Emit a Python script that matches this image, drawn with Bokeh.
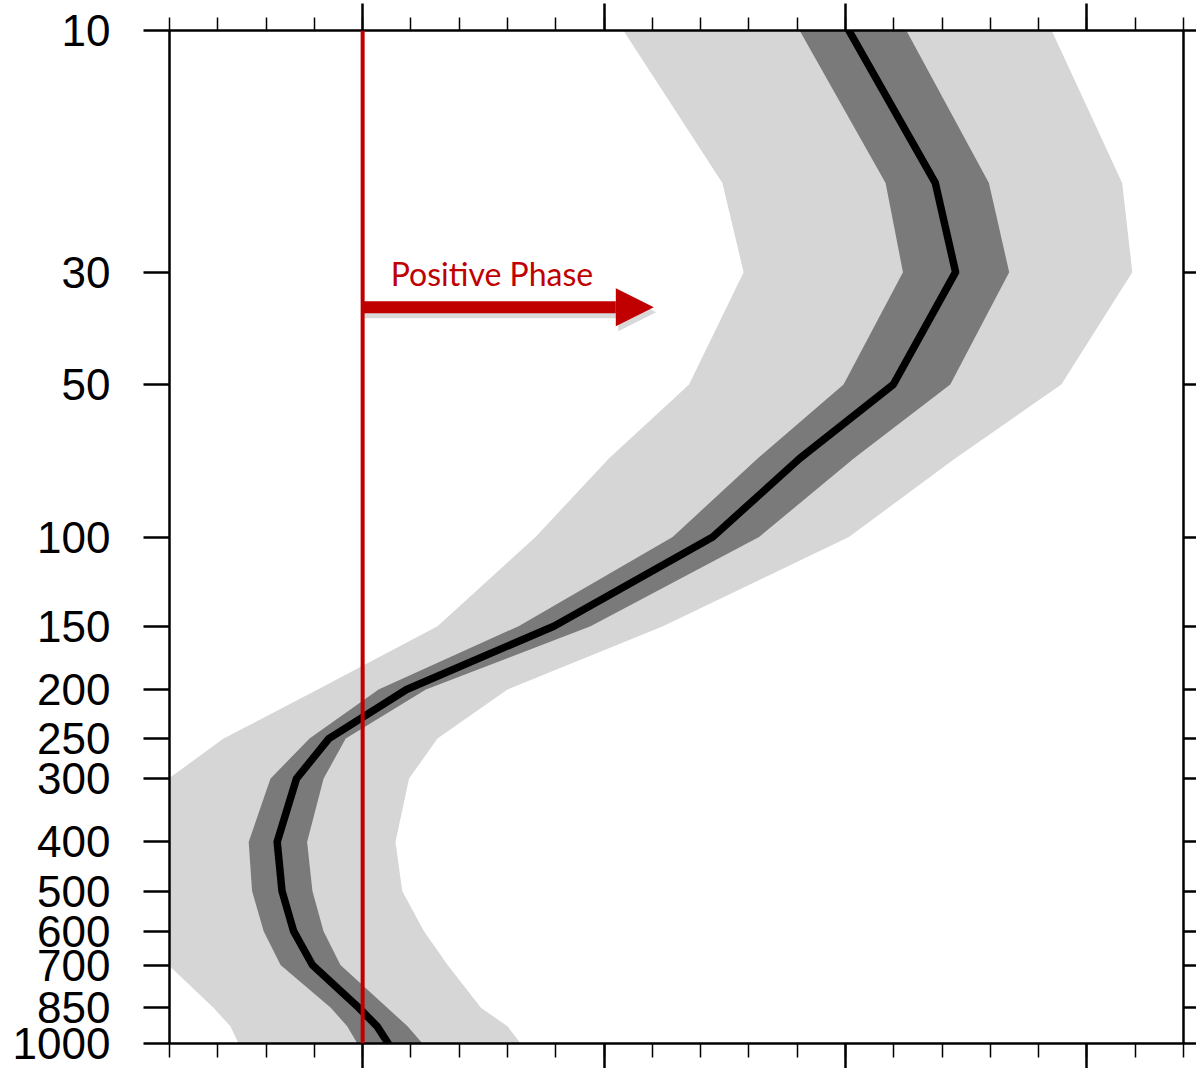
from bokeh.plotting import figure
from bokeh.models import (Range1d, FixedTicker, SingleIntervalTicker, LinearAxis, LogAxis,
                          Span, Arrow, NormalHead, Label, NumeralTickFormatter, CustomJSTickFormatter)
from bokeh.embed import file_html
from bokeh.resources import INLINE

# pressure levels (hPa)
levels = [10, 20, 30, 50, 70, 100, 150, 200, 250, 300, 400, 500, 600, 700, 850, 925, 1000]
# ensemble mean profile
mean = [1.007, 1.186, 1.228, 1.099, 0.905, 0.725, 0.396, 0.091, -0.070, -0.137,
        -0.177, -0.167, -0.143, -0.104, -0.008, 0.030, 0.053]
# inner (dark) band
inner_lo = [0.905, 1.083, 1.119, 0.996, 0.818, 0.642, 0.323, 0.033, -0.110, -0.191,
            -0.236, -0.229, -0.205, -0.170, -0.066, -0.032, -0.011]
inner_hi = [1.126, 1.297, 1.339, 1.217, 1.017, 0.821, 0.472, 0.131, -0.035, -0.081,
            -0.115, -0.104, -0.081, -0.046, 0.051, 0.093, 0.124]
# outer (light) band
outer_lo = [0.540, 0.745, 0.789, 0.676, 0.510, 0.358, 0.155, -0.093, -0.288, -0.402,
            -0.439, -0.439, -0.423, -0.402, -0.309, -0.274, -0.257]
outer_hi = [1.427, 1.573, 1.594, 1.447, 1.227, 1.007, 0.622, 0.300, 0.155, 0.096,
            0.068, 0.082, 0.127, 0.176, 0.245, 0.300, 0.327]

y_ticks = [10, 30, 50, 100, 150, 200, 250, 300, 400, 500, 600, 700, 850, 1000]
annot_text = "Positive Phase"

RED = "#C00000"

p = figure(width=1196, height=1068, x_range=Range1d(-0.4, 1.7), y_range=Range1d(1000, 10),
           y_axis_type="log", output_backend="svg", toolbar_location=None,
           min_border_left=169, min_border_right=13, min_border_top=30, min_border_bottom=25)
p.outline_line_color = None
p.grid.visible = False
p.background_fill_color = "white"
p.border_fill_color = "white"

p.harea(x1=outer_lo, x2=outer_hi, y=levels, fill_color="#D6D6D6")
p.harea(x1=inner_lo, x2=inner_hi, y=levels, fill_color="#7A7A7A")
p.line(mean, levels, line_color="black", line_width=7.5, line_join="round", line_cap="round")

blank = CustomJSTickFormatter(code="return ''")

# left axis
ya = p.yaxis[0]
ya.ticker = FixedTicker(ticks=y_ticks, minor_ticks=[])
ya.formatter = NumeralTickFormatter(format="0")
ya.major_tick_out = 26
ya.major_tick_in = 0
ya.major_tick_line_width = 2.5
ya.axis_line_width = 2.5
ya.major_label_standoff = 33
ya.major_label_text_font = "Liberation Sans"
ya.major_label_text_font_size = "44px"
ya.major_label_text_color = "black"

def style_x(ax, major_out, minor_out):
    ax.ticker = SingleIntervalTicker(interval=0.5, num_minor_ticks=5)
    ax.formatter = blank
    ax.major_tick_out = major_out
    ax.major_tick_in = 0
    ax.minor_tick_out = minor_out
    ax.minor_tick_in = 0
    ax.major_tick_line_width = 2.5
    ax.minor_tick_line_width = 1.5
    ax.axis_line_width = 2.5
    ax.major_label_text_font_size = "1px"
    ax.major_label_standoff = 0

style_x(p.xaxis[0], 25, 14)
top = LinearAxis()
style_x(top, 27, 13)
p.add_layout(top, "above")

right = LogAxis(ticker=FixedTicker(ticks=y_ticks, minor_ticks=[]), formatter=blank)
right.major_tick_out = 13
right.major_tick_in = 0
right.major_tick_line_width = 2.5
right.axis_line_width = 2.5
right.major_label_text_font_size = "1px"
right.major_label_standoff = 0
p.add_layout(right, "right")

# red zero line
p.add_layout(Span(location=0, dimension="height", line_color=RED, line_width=4))

# arrow with faint shadow
arrow_y = 35.2
arrow_x_end = 0.603
p.add_layout(Arrow(x_start=0.004, y_start=36.0, x_end=arrow_x_end + 0.005, y_end=36.0,
                   line_color="#000000", line_alpha=0.15, line_width=12,
                   end=NormalHead(size=38, fill_color="#000000", fill_alpha=0.15, line_color=None)))
p.add_layout(Arrow(x_start=0.0, y_start=arrow_y, x_end=arrow_x_end, y_end=arrow_y,
                   line_color=RED, line_width=12,
                   end=NormalHead(size=38, fill_color=RED, line_color=None)))

p.add_layout(Label(x=0.058, y=30.2, text=annot_text, text_color=RED,
                   text_font="Lato", text_font_size="32px", text_baseline="alphabetic"))

open("out.html", "w").write(file_html(p, INLINE))
